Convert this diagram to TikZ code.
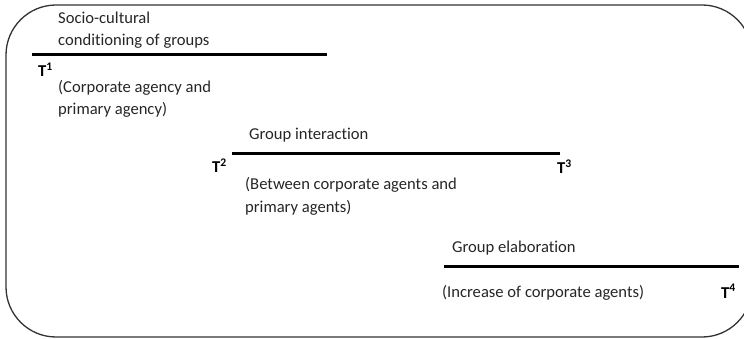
\documentclass[tikz,border=0pt]{standalone}
\usepackage{fontspec}
\setmainfont{Carlito}[Ligatures=NoCommon]
\begin{document}
\begin{tikzpicture}[x=1pt,y=-1pt,
  txt/.style={anchor=base west,inner sep=0pt,font=\fontsize{16.6}{22}\selectfont,text=black!85},
  tlab/.style={anchor=base west,inner sep=0pt,font=\fontsize{16.6}{22}\selectfont\bfseries},
  phase/.style={line width=3pt,black},
  frame/.style={line width=1.3pt,black!80,rounded corners=50pt}]
\useasboundingbox (0,0) rectangle (744,339);
\clip (0,0) rectangle (744,339);
\draw[frame] (6,5) rectangle (752,337);
% phase 1
\node[txt] (s1a) at (58,24) {Socio-cultural};
\node[txt] (s1b) at (58,46) {conditioning of groups};
\coordinate (l1a) at (32,55);
\coordinate (l1b) at (327,55);
\draw[phase] (l1a) -- (l1b);
\node[tlab] (t1) at (38,77) {T\textsuperscript{1}};
\node[txt] (c1a) at (58,93) {(Corporate agency and};
\node[txt] (c1b) at (58,115) {primary agency)};
% phase 2
\node[txt] (s2) at (249,140) {Group interaction};
\coordinate (l2a) at (232,154);
\coordinate (l2b) at (560,154);
\draw[phase] (l2a) -- (l2b);
\node[tlab] (t2) at (212,173) {T\textsuperscript{2}};
\node[tlab] (t3) at (557,174) {T\textsuperscript{3}};
\node[txt] (c2a) at (245,190) {(Between corporate agents and};
\node[txt] (c2b) at (245,212) {primary agents)};
% phase 3
\node[txt] (s3) at (452,252) {Group elaboration};
\coordinate (l3a) at (444,266.5);
\coordinate (l3b) at (739,266.5);
\draw[phase] (l3a) -- (l3b);
\node[txt] (c3) at (442,297) {(Increase of corporate agents)};
\node[tlab] (t4) at (721,298) {T\textsuperscript{4}};
\end{tikzpicture}
\end{document}
